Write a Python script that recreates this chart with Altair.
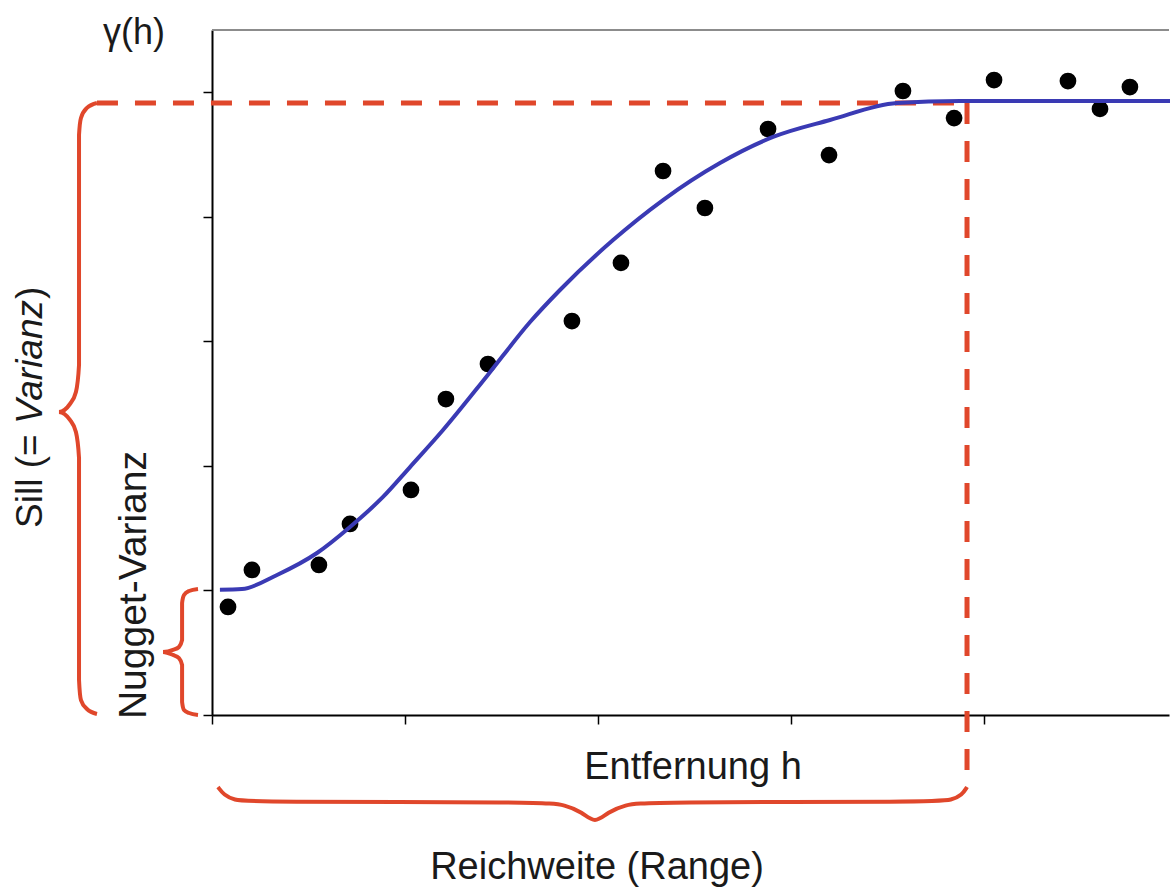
import altair as alt
import pandas as pd

# ---- data ----
pt_x = [0.083, 0.207, 0.554, 0.715, 1.031, 1.212, 1.430, 1.865, 2.119, 2.337,
        2.554, 2.881, 3.197, 3.580, 3.845, 4.052, 4.435, 4.601, 4.756]
pt_y = [0.867, 1.164, 1.204, 1.533, 1.806, 2.536, 2.817, 3.162, 3.628, 4.366,
        4.069, 4.703, 4.494, 5.008, 4.791, 5.096, 5.088, 4.864, 5.040]

fit_x = [0.041, 0.155, 0.337, 0.544, 0.715, 0.886, 1.026, 1.197, 1.425, 1.648,
         1.803, 2.078, 2.337, 2.632, 2.907, 3.202, 3.549, 3.876, 4.964]
fit_y = [1.005, 1.011, 1.124, 1.300, 1.509, 1.750, 1.990, 2.287, 2.721, 3.154,
         3.411, 3.812, 4.133, 4.430, 4.639, 4.775, 4.912, 4.928, 4.928]

sill = 4.912
rng = 3.912

# annotation braces (data units)
sill_bx = [-0.596, -0.648, -0.679, -0.689, -0.689, -0.705, -0.736, -0.793,
           -0.736, -0.705, -0.689, -0.689, -0.679, -0.648, -0.596]
sill_by = [4.912, 4.872, 4.791, 4.655, 2.809, 2.592, 2.496, 2.432,
           2.368, 2.271, 2.063, 0.281, 0.120, 0.048, 0.008]

nug_bx = [-0.0725, -0.119, -0.145, -0.155, -0.155, -0.171, -0.202, -0.254,
          -0.202, -0.171, -0.155, -0.155, -0.145, -0.119, -0.0725]
nug_by = [1.011, 0.995, 0.963, 0.899, 0.602, 0.546, 0.522, 0.506,
          0.482, 0.457, 0.401, 0.104, 0.040, 0.016, 0.0]

rng_bx = [0.031, 0.062, 0.114, 0.197, 1.725, 1.829, 1.917, 1.984,
          2.052, 2.140, 2.244, 3.746, 3.834, 3.886, 3.912]
rng_by = [-0.578, -0.642, -0.682, -0.698, -0.698, -0.722, -0.778, -0.875,
          -0.778, -0.722, -0.698, -0.698, -0.682, -0.642, -0.578]

x_ticks = [0, 1, 2, 3, 4]
y_ticks = [0, 1, 2, 3, 4, 5]

W, H = 957, 685
XD = [0, 957 / 193]
YD = [0, 685 / 124.6]
FONT = "Liberation Sans"
RED = "#e0472b"
BLUE = "#3a3ab4"

xs = alt.Scale(domain=XD, nice=False, zero=False)
ys = alt.Scale(domain=YD, nice=False, zero=False)

x_axis = alt.Axis(values=x_ticks, labels=False, title=None, grid=False,
                  domainColor="black", domainWidth=2, tickColor="black",
                  tickWidth=1.5, tickSize=9)
y_axis = alt.Axis(values=y_ticks, labels=False, title=None, grid=False,
                  domainColor="black", domainWidth=2, tickColor="black",
                  tickWidth=1.5, tickSize=9)


def path_df(xv, yv):
    return pd.DataFrame({"x": xv, "y": yv, "i": list(range(len(xv)))})


def X():
    return alt.X("x:Q", scale=xs, axis=x_axis)


def Y():
    return alt.Y("y:Q", scale=ys, axis=y_axis)


pts = pd.DataFrame({"x": pt_x, "y": pt_y})
points = alt.Chart(pts).mark_circle(color="black", opacity=1, size=280).encode(
    x=X(), y=Y())

fit = alt.Chart(path_df(fit_x, fit_y)).mark_line(
    color=BLUE, strokeWidth=4, interpolate="monotone").encode(
    x=X(), y=Y(), order="i:Q")

top_border = alt.Chart(pd.DataFrame({"a": [0]})).mark_rule(
    color="#8c8c8c", strokeWidth=2).encode(
    x=alt.value(0), x2=alt.value(W), y=alt.value(0))

dash_h = alt.Chart(path_df([-0.596, rng], [sill, sill])).mark_line(
    color=RED, strokeWidth=5, strokeDash=[21, 17], strokeCap="butt").encode(
    x=X(), y=Y(), order="i:Q")
dash_v = alt.Chart(path_df([rng, rng], [sill, -0.578])).mark_line(
    color=RED, strokeWidth=5, strokeDash=[21, 17], strokeCap="butt").encode(
    x=X(), y=Y(), order="i:Q")


def brace(xv, yv, interp="monotone"):
    return alt.Chart(path_df(xv, yv)).mark_line(
        color=RED, strokeWidth=4, interpolate=interp).encode(
        x=X(), y=Y(), order="i:Q")


b_sill = brace(sill_bx, sill_by)
b_nug = brace(nug_bx, nug_by)
b_rng = brace(rng_bx, rng_by, "basis")


def label(txt, x, y, size, angle=0, align="center", style="normal"):
    return alt.Chart(pd.DataFrame({"x": [x], "y": [y], "t": [txt]})).mark_text(
        font=FONT, fontSize=size, color="#1a1a1a", angle=angle, align=align,
        baseline="middle", fontStyle=style).encode(x=X(), y=Y(), text="t:N")


t_gamma = label("γ(h)", -0.404, 5.474, 36)
t_entf = label("Entfernung h", 2.492, -0.425, 38)
t_reich = label("Reichweite (Range)", 1.995, -1.228, 38)
t_nug = label("Nugget-Varianz", -0.404, 1.043, 39, angle=270)
t_sill1 = label("Sill (= ", -0.938, 1.501, 37, angle=270, align="left")
t_sill2 = label("Varianz", -0.938, 2.335, 37, angle=270, align="left", style="italic")
t_sill3 = label(")", -0.938, 3.339, 37, angle=270, align="left")

chart = alt.layer(
    points, top_border, dash_h, dash_v, b_sill, b_nug, b_rng, fit,
    t_gamma, t_entf, t_reich, t_nug, t_sill1, t_sill2, t_sill3
).properties(
    width=W, height=H,
    autosize=alt.AutoSizeParams(type="none"),
    padding={"left": 212, "top": 30, "right": 1, "bottom": 174},
    background="white",
).configure_view(stroke=None)

chart.save("out.html", embed_options={"renderer": "svg", "actions": False})
